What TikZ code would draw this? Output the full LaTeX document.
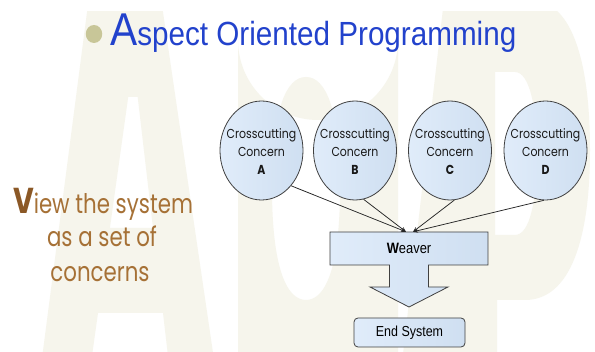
\documentclass[tikz,border=0pt]{standalone}
\usepackage{fontspec}
\usepackage{graphicx}
\usetikzlibrary{shapes.geometric,arrows.meta}
\newfontfamily\arialfont{Liberation Sans}
\newfontfamily\comicfont{Poppins}
\definecolor{wmark}{RGB}{246,245,236}
\definecolor{titleblue}{RGB}{34,66,204}
\definecolor{bulletkhaki}{RGB}{200,198,152}
\definecolor{brownV}{RGB}{139,88,38}
\definecolor{brownT}{RGB}{166,113,54}
\definecolor{bubbleL}{RGB}{224,236,250}
\definecolor{bubbleR}{RGB}{207,223,241}
\definecolor{edge}{RGB}{64,64,64}
\newcommand\hsq[2]{\scalebox{#1}[1]{#2}}

\begin{document}
\begin{tikzpicture}[x=1pt,y=-1pt,
  concern/.style={ellipse, draw=edge, line width=0.8pt, left color=bubbleL, right color=bubbleR,
    minimum width=83pt, minimum height=99pt, inner sep=0pt},
  cctext/.style={inner sep=0pt, text=black!90, font=\comicfont\fontsize{13}{18}\selectfont},
  conn/.style={draw=black!85, line width=0.75pt, -{Stealth[length=5pt,width=4pt]}},
  bigline/.style={anchor=base, inner sep=0pt, text=brownT},
  boxtext/.style={inner sep=0pt, font=\arialfont}
]
\useasboundingbox (0,0) rectangle (595,352);
\fill[white] (0,0) rectangle (595,352);

% faint "AOP" lettering in the background
\begin{scope}
  \clip (0,12) rectangle (595,352);
  % A with its counter
  \fill[wmark, even odd rule]
    (88.6,0) -- (161.2,0) -- (217,380) -- (170.8,380) -- (163,313) -- (98,313) -- (88.6,380) -- (39.2,380) -- cycle
    (128.2,97) -- (137.7,97) -- (153,228) -- (109.9,228) -- cycle;
  % O
  \fill[wmark, even odd rule]
    (238,440) -- (238,40) arc[start angle=180, end angle=0, radius=80] -- (398,440) -- cycle
    (306,77) .. controls (326,77) and (340,110) .. (340,188) .. controls (340,266) and (326,300) .. (306,300)
             .. controls (286,300) and (272,266) .. (272,188) .. controls (272,110) and (286,77) .. (306,77) -- cycle;
  % P
  \fill[wmark, even odd rule]
    (444,0) -- (530,0) .. controls (575,0) and (590,70) .. (590,150) .. controls (590,240) and (570,300) .. (525,300)
      -- (497,300) -- (497,380) -- (400,380) -- cycle
    (495,72) -- (515,72) .. controls (530,72) and (537,110) .. (537,152) .. controls (537,200) and (530,235) .. (515,235)
      -- (495,235) -- cycle;
\end{scope}

% title
\node[ellipse, fill=bulletkhaki, minimum width=16.5pt, minimum height=18pt, inner sep=0pt] (bullet) at (94,34) {};
\node[anchor=base west, inner sep=0pt, text=titleblue] (title) at (110,46)
  {\hsq{0.885}{\arialfont\fontsize{46}{46}\selectfont A\fontsize{33.5}{33.5}\selectfont spect Oriented Programming}};

% side caption
\node[bigline] (cap1) at (103,214)
  {\hsq{0.79}{\comicfont\fontsize{27}{27}\selectfont{\color{brownV}\bfseries\fontsize{36}{36}\selectfont V}iew the system}};
\node[bigline] (cap2) at (102,247)
  {\hsq{0.79}{\comicfont\fontsize{27}{27}\selectfont as a set of}};
\node[bigline] (cap3) at (100,282)
  {\hsq{0.79}{\comicfont\fontsize{27}{27}\selectfont concerns}};

% concerns
\foreach \n/\x in {A/261.5, B/355, C/450, D/545.5}{
  \node[concern] (\n) at (\x,150.5) {};
  \node[cctext] (t\n) at ([yshift=-2.5pt]\n.center)
    {\hsq{0.84}{\begin{tabular}{@{}c@{}}Crosscutting\\Concern\\\textbf{\n}\end{tabular}}};
}

% weaver box with its block arrow
\path[draw=edge, line width=0.8pt, left color=bubbleL, right color=bubbleR]
  (330,232) -- (488,232) -- (488,265) -- (428.5,265) -- (428.5,287) -- (448,287) -- (409,307)
  -- (370,287) -- (389.5,287) -- (389.5,265) -- (330,265) -- cycle;
\node[boxtext, minimum width=158pt, minimum height=33pt] (weaver) at (409,248.5)
  {\hsq{0.86}{\fontsize{15}{15}\selectfont\textbf{W}eaver}};

% end system
\node[boxtext, draw=edge, line width=0.8pt, rounded corners=4pt, left color=bubbleL, right color=bubbleR,
  minimum width=111pt, minimum height=29pt] (end) at (409.5,332.5)
  {\hsq{0.86}{\fontsize{14.5}{14.5}\selectfont End System}};

% connectors
\draw[conn] (A.-50) -- ([xshift=-3pt]weaver.north);
\draw[conn] (B.-80) -- ([xshift=-3pt]weaver.north);
\draw[conn] (C.-85) -- ([xshift=4pt]weaver.north);
\draw[conn] (D.-92) -- ([xshift=4pt]weaver.north);
\end{tikzpicture}
\end{document}
